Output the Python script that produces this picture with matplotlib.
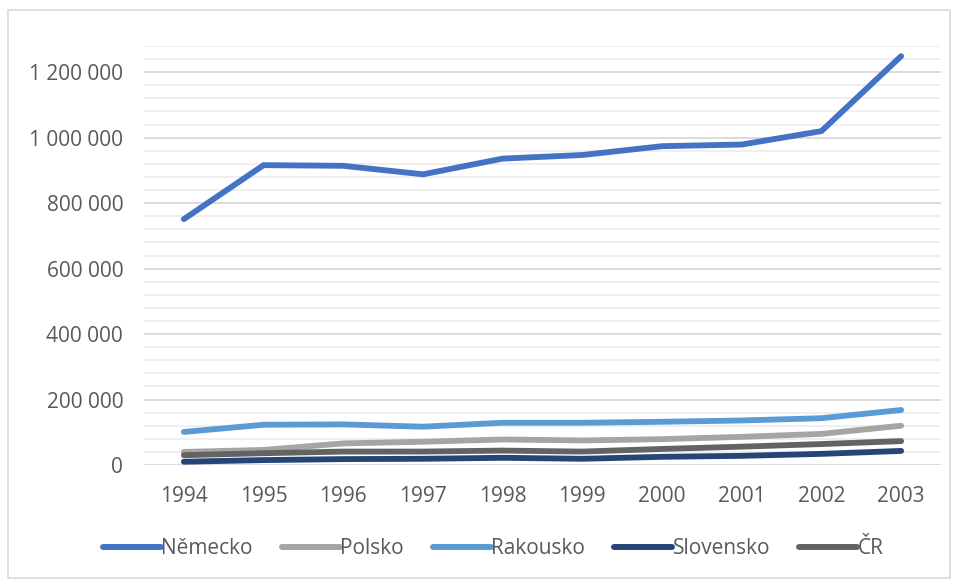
import numpy as np
import matplotlib.pyplot as plt
from matplotlib.patches import Rectangle
from matplotlib.ticker import MultipleLocator, FuncFormatter

plt.rcParams['font.family'] = ['Open Sans', 'DejaVu Sans']

roky = ['1994', '1995', '1996', '1997', '1998', '1999', '2000', '2001', '2002', '2003']

nemecko = [751000, 916000, 914000, 888000, 936000, 947000, 974000, 979000, 1020000, 1249000]
polsko = [40000, 46000, 66000, 71000, 78000, 75000, 79000, 86000, 95000, 120000]
rakousko = [101000, 123000, 124000, 117000, 129000, 129000, 132000, 136000, 143000, 168000]
slovensko = [10000, 15000, 18000, 19000, 22000, 19000, 25000, 28000, 34000, 43000]
cr = [30000, 36000, 41000, 41000, 44000, 41000, 49000, 56000, 64000, 73000]

serie = [
    ('Německo', nemecko, '#4472C4'),
    ('Polsko', polsko, '#A5A5A5'),
    ('Rakousko', rakousko, '#5B9BD5'),
    ('Slovensko', slovensko, '#264478'),
    ('ČR', cr, '#636363'),
]

text_col = '#595959'

fig = plt.figure(figsize=(9.57, 5.81), dpi=100)
ax = fig.add_axes([144 / 957, 116 / 581, 797 / 957, 419 / 581])

x = np.arange(len(roky))
for nazev, hodnoty, barva in serie:
    ax.plot(x, hodnoty, color=barva, lw=4.2, solid_capstyle='round',
            solid_joinstyle='round', label=nazev, zorder=3)

ax.set_xlim(-0.5, len(roky) - 0.5)
ax.set_ylim(0, 1280000)
ax.yaxis.set_major_locator(MultipleLocator(200000))
ax.yaxis.set_minor_locator(MultipleLocator(40000))
ax.yaxis.set_major_formatter(FuncFormatter(lambda v, p: f'{int(v):,}'.replace(',', ' ')))
ax.grid(axis='y', which='major', color='#D9D9D9', lw=1.3, zorder=0)
ax.grid(axis='y', which='minor', color='#EEEEEE', lw=1.3, zorder=0)
ax.set_xticks(x)
ax.set_xticklabels(roky)
ax.tick_params(axis='both', which='both', length=0, labelsize=15, colors=text_col)
ax.tick_params(axis='x', pad=15)
ax.tick_params(axis='y', pad=15)
for s in ax.spines.values():
    s.set_visible(False)

leg = fig.legend(loc='center', bbox_to_anchor=(493 / 957, 1 - 549 / 581), ncol=5,
                 frameon=False, fontsize=15, handlelength=2.8, handletextpad=0.0,
                 columnspacing=1.4, labelcolor=text_col)
for h in leg.legend_handles:
    h.set_linewidth(4.3)
    h.set_solid_capstyle('round')

fig.patches.append(Rectangle((8 / 957, 3 / 581), 942 / 957, 568 / 581,
                             transform=fig.transFigure, fill=False,
                             edgecolor='#D9D9D9', lw=1.2))

fig.savefig('out.png', dpi=100)
